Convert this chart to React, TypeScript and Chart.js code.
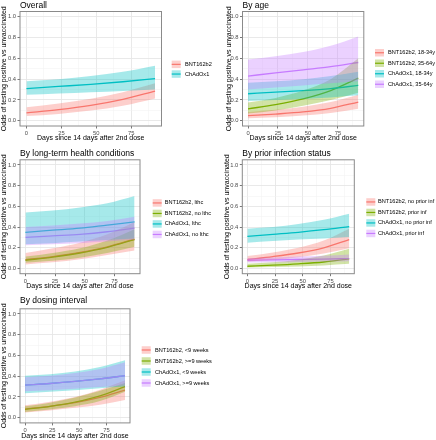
import React, { useEffect, useRef } from "react";
import { Chart, registerables } from "chart.js";
Chart.register(...registerables);

// ---------- shared axes ----------
const DAYS = [0, 23, 46, 69, 92];
const X_MAJOR = [0, 25, 50, 75];
const X_MINOR = [12.5, 37.5, 62.5, 87.5];
const X_LABELS = ["0", "25", "50", "75"];
const Y_MAJOR = [0, 0.2, 0.4, 0.6, 0.8, 1.0];
const Y_MINOR = [0.1, 0.3, 0.5, 0.7, 0.9];
const Y_LABELS = ["0.0", "0.2", "0.4", "0.6", "0.8", "1.0"];
const X_TITLE = "Days since 14 days after 2nd dose";
const Y_TITLE = "Odds of testing positive vs unvaccinated";

// ---------- Overall ----------
const OVERALL_TITLE = "Overall";
const OVERALL_GROUPS = ["BNT162b2", "ChAdOx1"];
const OVERALL_BNT = [0.077, 0.107, 0.148, 0.206, 0.285];
const OVERALL_BNT_LO = [0.045, 0.066, 0.098, 0.145, 0.215];
const OVERALL_BNT_HI = [0.13, 0.165, 0.211, 0.275, 0.36];
const OVERALL_CHAD = [0.31, 0.33, 0.35, 0.375, 0.405];
const OVERALL_CHAD_LO = [0.25, 0.262, 0.275, 0.287, 0.3];
const OVERALL_CHAD_HI = [0.38, 0.4, 0.43, 0.47, 0.53];

// ---------- By age ----------
const AGE_TITLE = "By age";
const AGE_GROUPS = ["BNT162b2, 18-34y", "BNT162b2, 35-64y", "ChAdOx1, 18-34y", "ChAdOx1, 35-64y"];
const AGE_BNT_YOUNG = [0.05, 0.065, 0.085, 0.12, 0.18];
const AGE_BNT_YOUNG_LO = [0.025, 0.035, 0.05, 0.075, 0.115];
const AGE_BNT_YOUNG_HI = [0.085, 0.105, 0.135, 0.18, 0.25];
const AGE_BNT_OLD = [0.115, 0.155, 0.21, 0.29, 0.41];
const AGE_BNT_OLD_LO = [0.07, 0.1, 0.145, 0.2, 0.27];
const AGE_BNT_OLD_HI = [0.175, 0.22, 0.29, 0.4, 0.6];
const AGE_CHAD_YOUNG = [0.26, 0.275, 0.29, 0.31, 0.34];
const AGE_CHAD_YOUNG_LO = [0.19, 0.2, 0.21, 0.225, 0.245];
const AGE_CHAD_YOUNG_HI = [0.365, 0.38, 0.4, 0.43, 0.47];
const AGE_CHAD_OLD = [0.43, 0.46, 0.49, 0.52, 0.56];
const AGE_CHAD_OLD_LO = [0.3, 0.32, 0.34, 0.36, 0.38];
const AGE_CHAD_OLD_HI = [0.59, 0.62, 0.66, 0.72, 0.81];

// ---------- By long-term health conditions ----------
const LTHC_TITLE = "By long-term health conditions";
const LTHC_GROUPS = ["BNT162b2, lthc", "BNT162b2, no lthc", "ChAdOx1, lthc", "ChAdOx1, no lthc"];
const LTHC_BNT_YES = [0.085, 0.115, 0.155, 0.21, 0.285];
const LTHC_BNT_YES_LO = [0.04, 0.06, 0.09, 0.13, 0.175];
const LTHC_BNT_YES_HI = [0.15, 0.195, 0.25, 0.33, 0.45];
const LTHC_BNT_NO = [0.08, 0.11, 0.15, 0.205, 0.28];
const LTHC_BNT_NO_LO = [0.055, 0.075, 0.105, 0.15, 0.21];
const LTHC_BNT_NO_HI = [0.115, 0.15, 0.195, 0.27, 0.38];
const LTHC_CHAD_YES = [0.35, 0.37, 0.39, 0.42, 0.45];
const LTHC_CHAD_YES_LO = [0.235, 0.245, 0.26, 0.275, 0.29];
const LTHC_CHAD_YES_HI = [0.54, 0.56, 0.59, 0.63, 0.7];
const LTHC_CHAD_NO = [0.3, 0.315, 0.33, 0.355, 0.39];
const LTHC_CHAD_NO_LO = [0.225, 0.235, 0.245, 0.26, 0.28];
const LTHC_CHAD_NO_HI = [0.4, 0.415, 0.435, 0.46, 0.5];

// ---------- By prior infection status ----------
const PRIOR_TITLE = "By prior infection status";
const PRIOR_GROUPS = ["BNT162b2, no prior inf", "BNT162b2, prior inf", "ChAdOx1, no prior inf", "ChAdOx1, prior inf"];
const PRIOR_BNT_NO = [0.087, 0.115, 0.15, 0.2, 0.28];
const PRIOR_BNT_NO_LO = [0.065, 0.085, 0.11, 0.145, 0.195];
const PRIOR_BNT_NO_HI = [0.12, 0.155, 0.2, 0.27, 0.385];
const PRIOR_BNT_YES = [0.022, 0.032, 0.045, 0.063, 0.093];
const PRIOR_BNT_YES_LO = [0.01, 0.015, 0.02, 0.03, 0.045];
const PRIOR_BNT_YES_HI = [0.045, 0.06, 0.085, 0.125, 0.19];
const PRIOR_CHAD_NO = [0.31, 0.33, 0.35, 0.375, 0.405];
const PRIOR_CHAD_NO_LO = [0.25, 0.265, 0.28, 0.29, 0.305];
const PRIOR_CHAD_NO_HI = [0.385, 0.4, 0.43, 0.47, 0.53];
const PRIOR_CHAD_YES = [0.08, 0.083, 0.087, 0.091, 0.096];
const PRIOR_CHAD_YES_LO = [0.058, 0.061, 0.064, 0.067, 0.07];
const PRIOR_CHAD_YES_HI = [0.1, 0.107, 0.115, 0.123, 0.135];

// ---------- By dosing interval ----------
const DOSE_TITLE = "By dosing interval";
const DOSE_GROUPS = ["BNT162b2, <9 weeks", "BNT162b2, >=9 weeks", "ChAdOx1, <9 weeks", "ChAdOx1, >=9 weeks"];
const DOSE_BNT_SHORT = [0.083, 0.11, 0.145, 0.195, 0.265];
const DOSE_BNT_SHORT_LO = [0.05, 0.07, 0.095, 0.125, 0.17];
const DOSE_BNT_SHORT_HI = [0.12, 0.155, 0.2, 0.27, 0.36];
const DOSE_BNT_LONG = [0.08, 0.11, 0.15, 0.21, 0.3];
const DOSE_BNT_LONG_LO = [0.055, 0.078, 0.11, 0.16, 0.25];
const DOSE_BNT_LONG_HI = [0.11, 0.145, 0.195, 0.26, 0.335];
const DOSE_CHAD_SHORT = [0.315, 0.33, 0.35, 0.375, 0.405];
const DOSE_CHAD_SHORT_LO = [0.235, 0.25, 0.265, 0.285, 0.3];
const DOSE_CHAD_SHORT_HI = [0.405, 0.42, 0.445, 0.49, 0.555];
const DOSE_CHAD_LONG = [0.315, 0.33, 0.35, 0.375, 0.405];
const DOSE_CHAD_LONG_LO = [0.255, 0.265, 0.28, 0.295, 0.31];
const DOSE_CHAD_LONG_HI = [0.39, 0.405, 0.43, 0.47, 0.535];

// ---------- styles ----------
const RED = "#F8766D";
const GREEN = "#7CAE00";
const TEAL = "#00BFC4";
const PURPLE = "#C77CFF";
const FONT = "'Liberation Sans', Arial, sans-serif";
const BAND_ALPHA = 0.35;

function rgba(hex: string, a: number) {
  const n = parseInt(hex.slice(1), 16);
  return `rgba(${(n >> 16) & 255},${(n >> 8) & 255},${n & 255},${a})`;
}

type Series = { label: string; color: string; line: number[]; lo: number[]; hi: number[] };
type PanelCfg = {
  title: string;
  x: number; y: number; w: number; h: number;
  box: { l: number; t: number; r: number; b: number };
  yTitleX: number;
  titleY: number;
  legend: { keyX: number; textX: number; cy: number; gap: number };
  series: Series[];
};

const PANELS: PanelCfg[] = [
  {
    title: OVERALL_TITLE, x: 0, y: 0, w: 218, h: 142,
    box: { l: 20, t: 11.5, r: 161.5, b: 126 }, yTitleX: 4.3, titleY: 5.5,
    legend: { keyX: 171.7, textX: 185, cy: 69.2, gap: 9.7 },
    series: [
      { label: OVERALL_GROUPS[0], color: RED, line: OVERALL_BNT, lo: OVERALL_BNT_LO, hi: OVERALL_BNT_HI },
      { label: OVERALL_GROUPS[1], color: TEAL, line: OVERALL_CHAD, lo: OVERALL_CHAD_LO, hi: OVERALL_CHAD_HI },
    ],
  },
  {
    title: AGE_TITLE, x: 218, y: 0, w: 218, h: 142,
    box: { l: 24.5, t: 11.5, r: 145.8, b: 126 }, yTitleX: 11, titleY: 5.5,
    legend: { keyX: 157, textX: 170, cy: 68.5, gap: 10.5 },
    series: [
      { label: AGE_GROUPS[0], color: RED, line: AGE_BNT_YOUNG, lo: AGE_BNT_YOUNG_LO, hi: AGE_BNT_YOUNG_HI },
      { label: AGE_GROUPS[1], color: GREEN, line: AGE_BNT_OLD, lo: AGE_BNT_OLD_LO, hi: AGE_BNT_OLD_HI },
      { label: AGE_GROUPS[2], color: TEAL, line: AGE_CHAD_YOUNG, lo: AGE_CHAD_YOUNG_LO, hi: AGE_CHAD_YOUNG_HI },
      { label: AGE_GROUPS[3], color: PURPLE, line: AGE_CHAD_OLD, lo: AGE_CHAD_OLD_LO, hi: AGE_CHAD_OLD_HI },
    ],
  },
  {
    title: LTHC_TITLE, x: 0, y: 142, w: 218, h: 148,
    box: { l: 20, t: 17.8, r: 140, b: 131.7 }, yTitleX: 3.8, titleY: 11.3,
    legend: { keyX: 152.7, textX: 164.7, cy: 76.7, gap: 10.5 },
    series: [
      { label: LTHC_GROUPS[0], color: RED, line: LTHC_BNT_YES, lo: LTHC_BNT_YES_LO, hi: LTHC_BNT_YES_HI },
      { label: LTHC_GROUPS[1], color: GREEN, line: LTHC_BNT_NO, lo: LTHC_BNT_NO_LO, hi: LTHC_BNT_NO_HI },
      { label: LTHC_GROUPS[2], color: TEAL, line: LTHC_CHAD_YES, lo: LTHC_CHAD_YES_LO, hi: LTHC_CHAD_YES_HI },
      { label: LTHC_GROUPS[3], color: PURPLE, line: LTHC_CHAD_NO, lo: LTHC_CHAD_NO_LO, hi: LTHC_CHAD_NO_HI },
    ],
  },
  {
    title: PRIOR_TITLE, x: 218, y: 142, w: 218, h: 148,
    box: { l: 24.3, t: 17.8, r: 136.3, b: 131.7 }, yTitleX: 9.5, titleY: 11.3,
    legend: { keyX: 148.3, textX: 160, cy: 75.7, gap: 10.5 },
    series: [
      { label: PRIOR_GROUPS[0], color: RED, line: PRIOR_BNT_NO, lo: PRIOR_BNT_NO_LO, hi: PRIOR_BNT_NO_HI },
      { label: PRIOR_GROUPS[1], color: GREEN, line: PRIOR_BNT_YES, lo: PRIOR_BNT_YES_LO, hi: PRIOR_BNT_YES_HI },
      { label: PRIOR_GROUPS[2], color: TEAL, line: PRIOR_CHAD_NO, lo: PRIOR_CHAD_NO_LO, hi: PRIOR_CHAD_NO_HI },
      { label: PRIOR_GROUPS[3], color: PURPLE, line: PRIOR_CHAD_YES, lo: PRIOR_CHAD_YES_LO, hi: PRIOR_CHAD_YES_HI },
    ],
  },
  {
    title: DOSE_TITLE, x: 0, y: 290, w: 218, h: 150,
    box: { l: 20, t: 18.8, r: 130, b: 132.9 }, yTitleX: 4.3, titleY: 10.7,
    legend: { keyX: 141.7, textX: 155, cy: 76.5, gap: 11 },
    series: [
      { label: DOSE_GROUPS[0], color: RED, line: DOSE_BNT_SHORT, lo: DOSE_BNT_SHORT_LO, hi: DOSE_BNT_SHORT_HI },
      { label: DOSE_GROUPS[1], color: GREEN, line: DOSE_BNT_LONG, lo: DOSE_BNT_LONG_LO, hi: DOSE_BNT_LONG_HI },
      { label: DOSE_GROUPS[2], color: TEAL, line: DOSE_CHAD_SHORT, lo: DOSE_CHAD_SHORT_LO, hi: DOSE_CHAD_SHORT_HI },
      { label: DOSE_GROUPS[3], color: PURPLE, line: DOSE_CHAD_LONG, lo: DOSE_CHAD_LONG_LO, hi: DOSE_CHAD_LONG_HI },
    ],
  },
];

function pts(vals: number[]) {
  return DAYS.map((d, i) => ({ x: d, y: vals[i] }));
}

function isIn(arr: number[], v: number) {
  return arr.some((a) => Math.abs(a - v) < 1e-9);
}

function Panel({ cfg }: { cfg: PanelCfg }) {
  const ref = useRef<HTMLCanvasElement | null>(null);
  useEffect(() => {
    const canvas = ref.current!;
    const n = cfg.series.length;
    const datasets: any[] = [];
    cfg.series.forEach((s, i) => {
      datasets.push({
        data: pts(s.line),
        borderColor: s.color,
        borderWidth: 1.3,
        pointRadius: 0,
        fill: false,
        cubicInterpolationMode: "monotone",
        order: 100 + (n - i),
      });
    });
    cfg.series.forEach((s, i) => {
      datasets.push({
        data: pts(s.hi),
        borderWidth: 0,
        borderColor: "rgba(0,0,0,0)",
        pointRadius: 0,
        fill: false,
        cubicInterpolationMode: "monotone",
        order: n - i,
      });
      datasets.push({
        data: pts(s.lo),
        borderWidth: 0,
        borderColor: "rgba(0,0,0,0)",
        backgroundColor: rgba(s.color, BAND_ALPHA),
        pointRadius: 0,
        fill: "-1",
        cubicInterpolationMode: "monotone",
        order: n - i,
      });
    });

    const padLeft = Math.max(0, cfg.yTitleX - 4.2);
    const decor = {
      id: "decor",
      afterDatasetsDraw(chart: any) {
        const { ctx, chartArea: a } = chart;
        ctx.save();
        ctx.strokeStyle = "#8a8a8a";
        ctx.lineWidth = 1;
        ctx.strokeRect(a.left, a.top, a.right - a.left, a.bottom - a.top);
        ctx.restore();
      },
      afterDraw(chart: any) {
        const { ctx } = chart;
        ctx.save();
        ctx.fillStyle = "#000";
        ctx.font = `8.5px ${FONT}`;
        ctx.textBaseline = "middle";
        ctx.textAlign = "left";
        ctx.fillText(cfg.title, cfg.box.l, cfg.titleY);
        const L = cfg.legend;
        const kw = 9, kh = 7.5;
        cfg.series.forEach((s, i) => {
          const cy = L.cy + (i - (n - 1) / 2) * L.gap;
          ctx.fillStyle = rgba(s.color, BAND_ALPHA);
          ctx.fillRect(L.keyX, cy - kh / 2, kw, kh);
          ctx.strokeStyle = s.color;
          ctx.lineWidth = 1.2;
          ctx.beginPath();
          ctx.moveTo(L.keyX, cy);
          ctx.lineTo(L.keyX + kw, cy);
          ctx.stroke();
          ctx.fillStyle = "#000";
          ctx.font = `5.6px ${FONT}`;
          ctx.fillText(s.label, L.textX, cy);
        });
        ctx.restore();
      },
    };

    const gridColor = (major: number[]) => (c: any) =>
      c.tick && isIn(major, c.tick.value) ? "#e6e6e6" : "#f0f0f0";
    const gridWidth = (major: number[]) => (c: any) =>
      c.tick && isIn(major, c.tick.value) ? 0.9 : 0.5;
    const tickColor = (major: number[]) => (c: any) =>
      c.tick && isIn(major, c.tick.value) ? "#555" : "rgba(0,0,0,0)";

    const chart = new Chart(canvas, {
      type: "line",
      data: { datasets },
      plugins: [decor],
      options: {
        animation: false,
        responsive: false,
        devicePixelRatio: 1,
        events: [],
        layout: {
          padding: { top: cfg.box.t, right: cfg.w - cfg.box.r, left: padLeft, bottom: 0 },
        },
        plugins: { legend: { display: false }, tooltip: { enabled: false }, title: { display: false } },
        scales: {
          x: {
            type: "linear",
            min: -4.6,
            max: 96.6,
            afterBuildTicks: (s: any) => {
              s.ticks = [...X_MAJOR, ...X_MINOR].sort((a, b) => a - b).map((v) => ({ value: v }));
            },
            afterFit: (s: any) => {
              s.height = cfg.h - cfg.box.b;
            },
            ticks: {
              autoSkip: false,
              maxRotation: 0,
              padding: 1.5,
              color: "#4D4D4D",
              font: { family: FONT, size: 5.8 },
              callback: (v: any) => {
                const i = X_MAJOR.findIndex((m) => Math.abs(m - v) < 1e-9);
                return i >= 0 ? X_LABELS[i] : "";
              },
            },
            grid: {
              color: gridColor(X_MAJOR),
              lineWidth: gridWidth(X_MAJOR),
              tickColor: tickColor(X_MAJOR),
              tickLength: 2.5,
              tickWidth: 0.8,
            },
            border: { display: false },
            title: {
              display: true,
              text: X_TITLE,
              color: "#000",
              padding: 0,
              font: { family: FONT, size: 7 },
            },
          },
          y: {
            type: "linear",
            min: -0.05,
            max: 1.05,
            afterBuildTicks: (s: any) => {
              s.ticks = [...Y_MAJOR, ...Y_MINOR].sort((a, b) => a - b).map((v) => ({ value: v }));
            },
            afterFit: (s: any) => {
              s.width = cfg.box.l - padLeft;
            },
            ticks: {
              autoSkip: false,
              padding: 1.5,
              color: "#4D4D4D",
              font: { family: FONT, size: 5.8 },
              callback: (v: any) => {
                const i = Y_MAJOR.findIndex((m) => Math.abs(m - v) < 1e-9);
                return i >= 0 ? Y_LABELS[i] : "";
              },
            },
            grid: {
              color: gridColor(Y_MAJOR),
              lineWidth: gridWidth(Y_MAJOR),
              tickColor: tickColor(Y_MAJOR),
              tickLength: 2.5,
              tickWidth: 0.8,
            },
            border: { display: false },
            title: {
              display: true,
              text: Y_TITLE,
              color: "#000",
              padding: 0,
              font: { family: FONT, size: 7 },
            },
          },
        },
      } as any,
    });
    return () => chart.destroy();
  }, []);
  return (
    <canvas
      ref={ref}
      width={cfg.w}
      height={cfg.h}
      style={{ position: "absolute", left: cfg.x, top: cfg.y, width: cfg.w, height: cfg.h }}
    />
  );
}

export default function App() {
  return (
    <div style={{ position: "absolute", left: 0, top: 0, width: 436, height: 440, background: "#fff", overflow: "hidden" }}>
      {PANELS.map((p, i) => (
        <Panel key={i} cfg={p} />
      ))}
    </div>
  );
}
